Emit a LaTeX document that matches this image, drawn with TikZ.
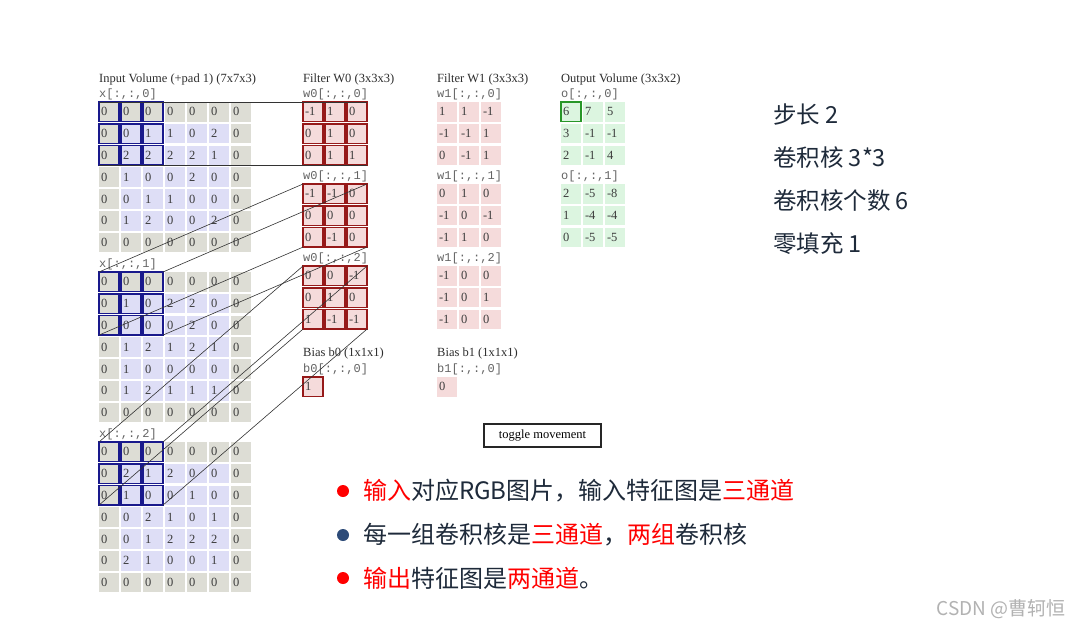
\documentclass[tikz,border=0pt]{standalone}
\usepackage{fontspec}
\setmainfont{Liberation Serif}
\setmonofont{Liberation Mono}
\newfontfamily\cjk{Noto Sans CJK SC}
\definecolor{padgray}{RGB}{221,221,213}
\definecolor{inlav}{RGB}{222,222,246}
\definecolor{wpink}{RGB}{245,219,219}
\definecolor{ogreen}{RGB}{220,245,224}
\definecolor{hlblue}{RGB}{25,25,140}
\definecolor{wred}{RGB}{150,25,25}
\definecolor{ogborder}{RGB}{40,150,40}
\definecolor{numgray}{RGB}{60,60,60}
\definecolor{labgray}{RGB}{100,100,100}
\definecolor{ttlgray}{RGB}{45,45,45}
\definecolor{navy}{RGB}{30,42,58}
\definecolor{dotnavy}{RGB}{45,75,120}
\definecolor{bred}{RGB}{255,0,0}
\tikzset{
  cell/.style={anchor=north west, minimum height=19.5pt, text width=16pt,
    inner xsep=2pt, inner ysep=0pt, align=left, outer sep=0pt,
    font=\fontsize{12.5}{12.5}\selectfont, text=numgray},
  hlcell/.style={draw=hlblue, line width=1.6pt},
  nohl/.style={},
  wcell/.style={fill=wpink, draw=wred, line width=1.6pt},
  w1cell/.style={fill=wpink},
  ocell/.style={fill=ogreen},
  ttl/.style={anchor=west, inner sep=0pt, font=\fontsize{12.5}{12.5}\selectfont, text=ttlgray},
  lab/.style={anchor=west, inner sep=0pt, font=\ttfamily\fontsize{12}{12}\selectfont, text=labgray},
  conn/.style={draw=black!80, line width=0.6pt},
  rt/.style={anchor=west, inner sep=0pt, font=\cjk\fontsize{23.5}{28}\selectfont, text=navy},
  bul/.style={anchor=west, inner sep=0pt, font=\cjk\fontsize{24}{28}\selectfont, text=navy},
  dotb/.style={circle, inner sep=0pt, minimum size=12pt},
}
\newcommand\inslice[3]{%
  \node[lab] (lx#1) at (99,#2-8) {x[:,:,#1]};
  \foreach \row [count=\r from 0] in {#3} {
    \foreach \v [count=\c from 0] in \row {
      \pgfmathtruncatemacro\padq{(\r==0)||(\r==6)||(\c==0)||(\c==6)}
      \pgfmathtruncatemacro\hlq{(\r<3)&&(\c<3)}
      \ifnum\padq=1 \def\cellfill{padgray}\else\def\cellfill{inlav}\fi
      \ifnum\hlq=1 \def\cellsty{hlcell}\else\def\cellsty{nohl}\fi
      \node[cell, fill=\cellfill, \cellsty] (x#1-\r-\c) at ({99+22*\c},{#2+21.8*\r}) {\v};
    }
  }
}
\newcommand\wslice[6]{%
  \node[lab] (l#1) at (#2,#3-8) {#6};
  \foreach \row [count=\r from 0] in {#4} {
    \foreach \v [count=\c from 0] in \row {
      \node[cell, #5] (#1-\r-\c) at ({#2+22*\c},{#3+21.8*\r}) {\v};
    }
  }
}
\begin{document}
\begin{tikzpicture}[x=1pt,y=-1pt]
\useasboundingbox (0,0) rectangle (1070,627);
\fill[white] (0,0) rectangle (1070,627);

% titles
\node[ttl] (tin) at (99,79) {Input Volume (+pad 1) (7x7x3)};
\node[ttl] (tw0) at (303,79) {Filter W0 (3x3x3)};
\node[ttl] (tw1) at (437,79) {Filter W1 (3x3x3)};
\node[ttl] (tout) at (561,79) {Output Volume (3x3x2)};

% input volume
\inslice{0}{102}{{0,0,0,0,0,0,0},{0,0,1,1,0,2,0},{0,2,2,2,2,1,0},{0,1,0,0,2,0,0},{0,0,1,1,0,0,0},{0,1,2,0,0,2,0},{0,0,0,0,0,0,0}}
\inslice{1}{272}{{0,0,0,0,0,0,0},{0,1,0,2,2,0,0},{0,0,0,0,2,0,0},{0,1,2,1,2,1,0},{0,1,0,0,0,0,0},{0,1,2,1,1,1,0},{0,0,0,0,0,0,0}}
\inslice{2}{442}{{0,0,0,0,0,0,0},{0,2,1,2,0,0,0},{0,1,0,0,1,0,0},{0,0,2,1,0,1,0},{0,0,1,2,2,2,0},{0,2,1,0,0,1,0},{0,0,0,0,0,0,0}}

% filter W0
\wslice{wa0}{303}{102}{{-1,1,0},{0,1,0},{0,1,1}}{wcell}{w0[:,:,0]}
\wslice{wa1}{303}{184}{{-1,-1,0},{0,0,0},{0,-1,0}}{wcell}{w0[:,:,1]}
\wslice{wa2}{303}{266}{{0,0,-1},{0,1,0},{1,-1,-1}}{wcell}{w0[:,:,2]}
\node[ttl] (tb0) at (303,353) {Bias b0 (1x1x1)};
\wslice{ba}{303}{377}{{1}}{wcell}{b0[:,:,0]}

% filter W1
\wslice{wb0}{437}{102}{{1,1,-1},{-1,-1,1},{0,-1,1}}{w1cell}{w1[:,:,0]}
\wslice{wb1}{437}{184}{{0,1,0},{-1,0,-1},{-1,1,0}}{w1cell}{w1[:,:,1]}
\wslice{wb2}{437}{266}{{-1,0,0},{-1,0,1},{-1,0,0}}{w1cell}{w1[:,:,2]}
\node[ttl] (tb1) at (437,353) {Bias b1 (1x1x1)};
\wslice{bb}{437}{377}{{0}}{w1cell}{b1[:,:,0]}

% output
\wslice{o0}{561}{102}{{6,7,5},{3,-1,-1},{2,-1,4}}{ocell}{o[:,:,0]}
\wslice{o1}{561}{184}{{2,-5,-8},{1,-4,-4},{0,-5,-5}}{ocell}{o[:,:,1]}
\draw[draw=ogborder, line width=1.4pt] (o0-0-0.north west) rectangle (o0-0-0.south east);

% connectors
\foreach \s in {0,1,2} {
  \draw[conn] (x\s-0-0.north west) -- (wa\s-0-0.north west);
  \draw[conn] (x\s-0-2.north east) -- (wa\s-0-2.north east);
  \draw[conn] (x\s-2-0.south west) -- (wa\s-2-0.south west);
  \draw[conn] (x\s-2-2.south east) -- (wa\s-2-2.south east);
}

% toggle button
\node[draw=black!85, line width=1.2pt, minimum width=117pt, minimum height=23pt,
  inner sep=0pt, font=\fontsize{12.5}{12.5}\selectfont] (tog) at (542.5,435.5) {toggle movement};

% right notes
\node[rt] (r1) at (773,115) {步长 2};
\node[rt] (r2) at (773,158) {卷积核 3*3};
\node[rt] (r3) at (773,201) {卷积核个数 6};
\node[rt] (r4) at (773,244) {零填充 1};

% bullets
\node[dotb, fill=bred] (d1) at (343,491) {};
\node[dotb, fill=dotnavy] (d2) at (343,535) {};
\node[dotb, fill=bred] (d3) at (343,578) {};
\node[bul] (b1) at (363,491) {{\color{bred}输入}对应RGB图片，输入特征图是{\color{bred}三通道}};
\node[bul] (b2) at (363,535) {每一组卷积核是{\color{bred}三通道}，{\color{bred}两组}卷积核};
\node[bul] (b3) at (363,578) {{\color{bred}输出}特征图是{\color{bred}两通道}。};

% watermark
\node[anchor=east, inner sep=0pt, text=black!30, font=\cjk\fontsize{19}{22}\selectfont] (wm) at (1066,609) {CSDN @曹轲恒};
\end{tikzpicture}
\end{document}
